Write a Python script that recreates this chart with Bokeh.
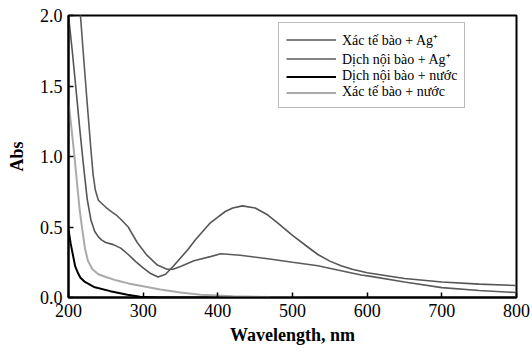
from bokeh.plotting import figure
from bokeh.models import Range1d, FixedTicker, PrintfTickFormatter, Legend, LegendItem
from bokeh.embed import file_html
from bokeh.resources import INLINE

# Xác tế bào + Ag+ (SPR peak ~433 nm)
wl_a = [200, 205, 210, 215, 220, 225, 230, 235, 240, 245, 250, 260, 270, 280, 290, 300, 310, 320,
        330, 340, 350, 360, 370, 380, 390, 400, 410, 420, 433, 450, 467, 480, 500, 520, 534, 550,
        565, 580, 600, 650, 700, 750, 800]
abs_a = [2.0, 1.75, 1.48, 1.2, 0.94, 0.7, 0.55, 0.47, 0.43, 0.405, 0.39, 0.375, 0.35, 0.305, 0.255,
         0.21, 0.17, 0.145, 0.165, 0.22, 0.28, 0.34, 0.41, 0.47, 0.53, 0.57, 0.61, 0.635, 0.65,
         0.635, 0.585, 0.53, 0.44, 0.36, 0.305, 0.258, 0.225, 0.2, 0.176, 0.135, 0.11, 0.095, 0.085]

# Dịch nội bào + Ag+
wl_b = [200, 216, 220, 225, 230, 233, 236, 240, 250, 256, 265, 270, 280, 292, 305, 319, 332, 340,
        350, 368, 390, 404, 430, 467, 500, 534, 565, 592, 605, 650, 700, 750, 800]
abs_b = [3.05, 2.0, 1.72, 1.38, 1.05, 0.87, 0.76, 0.69, 0.64, 0.615, 0.58, 0.555, 0.5, 0.39, 0.30,
         0.23, 0.2, 0.2, 0.22, 0.26, 0.29, 0.31, 0.30, 0.275, 0.25, 0.225, 0.19, 0.16, 0.15, 0.11,
         0.07, 0.05, 0.035]

# Dịch nội bào + nước
wl_c = [200, 203, 206, 209, 213, 216, 222, 234, 256, 279, 296, 320, 400, 800]
abs_c = [0.48, 0.38, 0.3, 0.22, 0.17, 0.14, 0.11, 0.075, 0.045, 0.02, 0.006, 0.0, 0.0, 0.0]

# Xác tế bào + nước
wl_d = [200, 204, 208, 212, 215, 218, 222, 226, 232, 240, 250, 265, 280, 300, 323, 350, 377, 420,
        470, 520, 800]
abs_d = [1.39, 1.2, 1.0, 0.78, 0.62, 0.5, 0.35, 0.26, 0.2, 0.165, 0.145, 0.12, 0.1, 0.08, 0.056,
         0.035, 0.02, 0.008, 0.003, 0.0, 0.0]

labels = ["Xác tế bào + Ag⁺", "Dịch nội bào + Ag⁺", "Dịch nội bào + nước", "Xác tế bào + nước"]
colors = ["#555555", "#5a5a5a", "#000000", "#aaaaaa"]
widths = [1.6, 1.6, 2.0, 2.0]

x_ticks = [200, 300, 400, 500, 600, 700, 800]
y_ticks = [0.0, 0.5, 1.0, 1.5, 2.0]

FONT = "Liberation Serif"

p = figure(width=532, height=353, output_backend="svg", toolbar_location=None,
           x_range=Range1d(200, 800), y_range=Range1d(0, 2.0),
           min_border_left=68, min_border_right=16, min_border_top=15, min_border_bottom=56)

rs = []
for xs, ys, c, w in zip([wl_a, wl_b, wl_c, wl_d], [abs_a, abs_b, abs_c, abs_d], colors, widths):
    rs.append(p.line(xs, ys, line_color=c, line_width=w))

p.xgrid.visible = False
p.ygrid.visible = False
p.outline_line_color = "black"
p.outline_line_width = 2
p.outline_line_alpha = 1

for ax in (p.xaxis[0], p.yaxis[0]):
    ax.major_tick_in = 5
    ax.major_tick_out = 0
    ax.minor_tick_line_color = None
    ax.axis_line_color = "black"
    ax.axis_line_width = 2
    ax.major_tick_line_width = 1.5
    ax.major_label_text_font = FONT
    ax.major_label_text_font_size = "18px"
    ax.major_label_text_color = "black"
    ax.axis_label_text_font = FONT
    ax.axis_label_text_font_size = "18px"
    ax.axis_label_text_font_style = "bold"
    ax.axis_label_text_color = "black"

p.xaxis[0].ticker = FixedTicker(ticks=x_ticks)
p.yaxis[0].ticker = FixedTicker(ticks=y_ticks)
p.yaxis[0].formatter = PrintfTickFormatter(format="%.1f")
p.xaxis[0].axis_label = "Wavelength, nm"
p.yaxis[0].axis_label = "Abs"
p.xaxis[0].major_label_standoff = 6
p.yaxis[0].major_label_standoff = 6
p.xaxis[0].axis_label_standoff = 5
p.yaxis[0].axis_label_standoff = 10

legend = Legend(items=[LegendItem(label=l, renderers=[r]) for l, r in zip(labels, rs)],
                location=(210, 189))
legend.label_text_font = FONT
legend.label_text_font_size = "14px"
legend.label_text_color = "black"
legend.label_height = 15
legend.glyph_height = 15
legend.glyph_width = 50
legend.spacing = 0
legend.padding = 7
legend.margin = 0
legend.label_standoff = 6
legend.border_line_color = "#777777"
legend.border_line_width = 1
legend.background_fill_alpha = 1
p.add_layout(legend)

open("out.html", "w").write(file_html(p, INLINE))
